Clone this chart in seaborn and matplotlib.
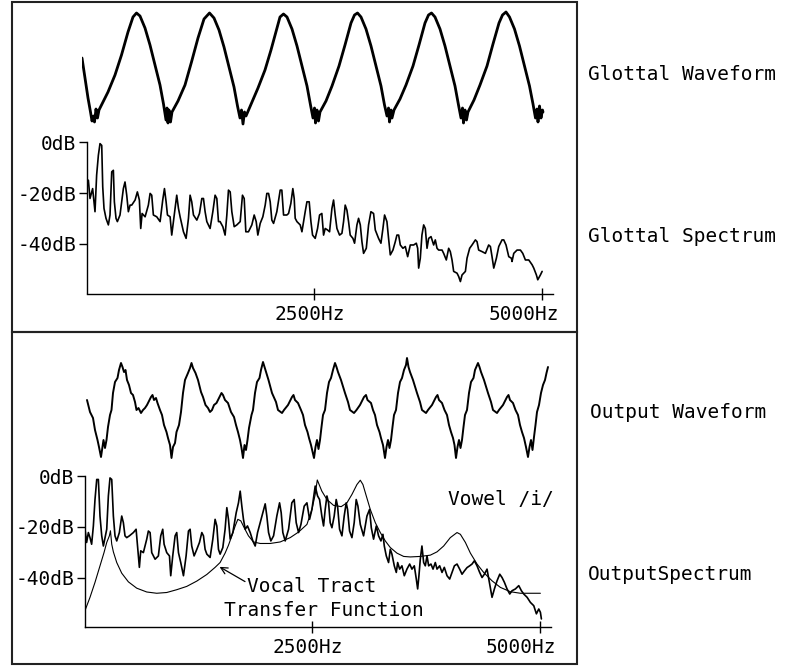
import matplotlib
matplotlib.use("Agg")
import matplotlib.pyplot as plt
import seaborn as sns
import pandas as pd
from matplotlib.patches import Rectangle
from matplotlib.transforms import ScaledTranslation

# ---------------- data ----------------
# waveforms: time in samples (10 kHz), amplitude in arbitrary units
glottal_wave = [
    (0, 65), (3, 45), (6, 25), (8.5, 11), (10, 2), (11.5, 7), (12.5, 1), (14, 14), (15.5, 5), (17, 13),
    (20, 19), (26, 31), (33, 48), (39.5, 68), (46, 91), (51, 106), (54.5, 110), (58, 107), (63, 95), (68, 78),
    (73, 58), (78, 38), (81.5, 19), (84, 3), (85, 15), (86, 0), (87, 13), (88.5, 1), (90, 11), (96, 22),
    (103, 38), (109.5, 61), (116, 85), (122, 104), (127.5, 110), (132, 105), (137, 93), (142, 76), (147, 56), (152, 36),
    (155.5, 17), (158, 5), (159.5, 13), (161, -1), (162.5, 11), (164, 7), (170, 21), (176, 35), (183, 53), (189, 73),
    (195, 95), (198, 106), (201.5, 109), (205, 106), (210, 94), (215, 77), (220, 57), (225, 37), (228.5, 18), (231, 5),
    (232.5, 15), (233.5, 0), (235, 13), (236.5, 2), (238, 11), (244, 22), (250, 37), (257, 57), (263, 78), (269, 100),
    (272.5, 108), (275.5, 110), (279, 106), (284, 94), (289, 77), (294, 57), (299, 37), (302.5, 18), (305, 7), (306.5, 15),
    (307.5, 1), (309, 13), (310, 5), (312, 13), (318, 24), (324, 38), (331, 57), (337, 78), (343, 100), (346.5, 108),
    (349.5, 110), (353, 106), (358, 94), (363, 77), (368, 57), (373, 37), (376.5, 18), (379, 5), (380.5, 15), (381.5, 0),
    (383, 13), (384.5, 3), (386, 11), (392, 23), (398, 38), (405, 57), (411, 79), (417, 100), (420.5, 108), (424, 111),
    (427.5, 106), (432.5, 94), (437.5, 77), (442.5, 57), (447.5, 37), (451, 19), (453.5, 5), (455, 14), (456, 1), (457.5, 17),
    (459, 5), (460.5, 13), (461, 11),
]

output_wave = [
    (5, 60), (8, 48), (11, 42), (13, 30), (15.5, 20), (17, 13), (19, 3), (20.5, 13), (21.5, 20), (23, 12),
    (24.5, 20), (26, 33), (28, 45), (29.5, 50), (31, 67), (33, 78), (35.5, 82), (37, 90), (39, 97), (40.5, 93),
    (42, 88), (43.5, 90), (45, 80), (47, 75), (49, 67), (51, 65), (53, 58), (54.5, 50), (56.5, 52), (59, 47),
    (61, 50), (63, 52), (65, 55), (67, 59), (69, 63), (70.5, 65), (72, 60), (74, 62), (75.5, 57), (78, 50),
    (80, 45), (82, 35), (84.5, 28), (86, 22), (88, 15), (89.5, 2),
    (91, 13), (93, 17), (94.5, 28), (97, 35), (99, 48), (101, 67), (103, 80), (106, 87), (108, 92), (109.5, 97),
    (111, 92), (113.5, 87), (116, 80), (119, 68), (121, 63), (123.5, 55), (126, 52), (128, 48), (130, 50), (132, 55),
    (134.5, 57), (137, 62), (139.5, 67), (141, 65), (143, 60), (146, 57), (149, 48), (152, 43), (154, 35), (156, 28),
    (158, 20), (159.5, 12), (161, 2),
    (162.5, 15), (164, 10), (165.5, 20), (167, 32), (169.5, 45), (171, 50), (173, 67), (175, 78), (177.5, 82), (179, 90),
    (181, 98), (182.5, 93), (184, 88), (186.5, 80), (190, 67), (194, 58), (196, 50), (200, 47), (202, 50), (206, 55),
    (210, 63), (211.5, 65), (213, 60), (216, 57), (219, 50), (221, 45), (223, 35), (225.5, 28), (227, 22), (229, 15),
    (232, 2),
    (233.5, 13), (235, 20), (236.5, 11), (238, 20), (239.5, 33), (241, 45), (243, 50), (245, 67), (247, 78), (249, 82),
    (251, 90), (253, 97), (254.5, 93), (256, 88), (259, 80), (263, 67), (266, 58), (268, 50), (272, 47), (274.5, 50),
    (278, 55), (282, 63), (284, 65), (285.5, 60), (289, 57), (291, 50), (293, 45), (295, 35), (297.5, 28), (299, 22),
    (301, 15), (303, 2),
    (304.5, 13), (306, 20), (307.5, 12), (309, 20), (310.5, 33), (312, 45), (314, 50), (316, 67), (318, 78), (320, 82),
    (322, 90), (324, 95), (325, 102), (326.5, 93), (328, 88), (331, 80), (335, 67), (338, 58), (340, 50), (344, 47),
    (346, 50), (350, 55), (354, 63), (355.5, 65), (357, 60), (360, 57), (362.5, 50), (365, 45), (367, 35), (369, 28),
    (371, 22), (372.5, 15), (374, 2),
    (375.5, 13), (377, 20), (378.5, 12), (380, 20), (381.5, 33), (383, 45), (385, 50), (387, 67), (389, 78), (391.5, 82),
    (393, 90), (396, 97), (397.5, 93), (399, 88), (402, 80), (406, 67), (409, 58), (411, 50), (415, 47), (417, 50),
    (421, 55), (425, 63), (426.5, 65), (428, 60), (431, 57), (433.5, 50), (436, 45), (438, 35), (440, 28), (442, 22),
    (444, 13), (446, 3),
    (447.5, 13), (449, 20), (450.5, 10), (452, 23), (453.5, 35), (455, 48), (457, 55), (459, 67), (461, 75), (463, 80),
    (464.5, 87), (466, 93),
]

# spectra: (frequency Hz, level dB)
glottal_spectrum = [
    (0, -15.6), (15, -14.9), (33, -22.1), (62, -18.2), (77, -23.4), (88, -27.3), (106, -12.9), (125, -5.1), (143, -0.5), (162, -1.2),
    (173, -17.5), (187, -26), (209, -29.9), (235, -32.5), (253, -28.6), (272, -11.6), (290, -11), (301, -23.4), (319, -29.9), (334, -31.2),
    (363, -28.6), (382, -23.4), (400, -18.2), (418, -15.6), (437, -20.8), (455, -27.3), (474, -24.7), (492, -24.7), (529, -22.7), (554, -19.5),
    (576, -22.7), (591, -33.9), (606, -28), (639, -29.3), (675, -24.7), (694, -20.1), (712, -20.8), (730, -28.6), (767, -29.3), (804, -31.2),
    (833, -22.7), (852, -18.2), (870, -23.4), (885, -28.6), (914, -29.3), (932, -36.5), (969, -26), (987, -20.8), (1006, -26), (1024, -29.3),
    (1061, -35.2), (1090, -37.8), (1116, -29.9), (1134, -20.8), (1152, -23.4), (1171, -28.6), (1208, -30.6), (1237, -28), (1263, -22.1), (1281, -22.1),
    (1299, -27.3), (1318, -31.2), (1354, -33.9), (1384, -27.3), (1409, -20.8), (1428, -22.1), (1446, -31.2), (1464, -31.2), (1494, -33.2), (1519, -36.5),
    (1538, -28.6), (1556, -18.8), (1575, -19.5), (1593, -27.3), (1619, -33.2), (1648, -32.5), (1685, -31.2), (1710, -20.8), (1729, -22.1), (1747, -35.2),
    (1776, -35.2), (1813, -32.5), (1839, -28.6), (1861, -31.2), (1879, -36.5), (1905, -31.9), (1934, -29.3), (1960, -24.7), (1978, -20.1), (1997, -20.1),
    (2015, -23.4), (2033, -30.6), (2052, -31.9), (2088, -27.3), (2125, -18.8), (2143, -18.8), (2162, -28.6), (2198, -28.6), (2217, -28), (2242, -24.1),
    (2264, -18.2), (2279, -22.1), (2290, -29.9), (2309, -31.2), (2345, -32.5), (2364, -35.2), (2382, -31.2), (2400, -27.3), (2419, -23.4), (2444, -23.4),
    (2463, -31.2), (2481, -36.5), (2510, -37.8), (2536, -33.9), (2558, -28.6), (2583, -28), (2602, -36.5), (2620, -33.9), (2646, -34.5), (2668, -35.2),
    (2694, -26), (2712, -22.7), (2730, -28.6), (2749, -33.9), (2778, -36.5), (2804, -35.8), (2822, -31.2), (2840, -24.7), (2859, -26.7), (2877, -31.2),
    (2895, -36.5), (2925, -37.8), (2943, -39.7), (2969, -32.5), (2987, -29.9), (3006, -32.5), (3024, -39.1), (3042, -43.7), (3072, -41.7), (3097, -32.5),
    (3123, -27.3), (3152, -28), (3171, -34.5), (3207, -37.8), (3233, -39.7), (3255, -33.9), (3273, -28.6), (3299, -31.2), (3317, -37.8), (3336, -44.3),
    (3365, -42.4), (3391, -39.1), (3409, -36.5), (3428, -36.5), (3446, -40.4), (3475, -41.7), (3501, -41), (3527, -45), (3556, -40.4), (3593, -40.4),
    (3622, -39.7), (3637, -41.7), (3648, -49.5), (3666, -45.6), (3684, -36.5), (3703, -32.5), (3721, -33.9), (3740, -41.7), (3758, -37.8), (3784, -37.1),
    (3813, -40.4), (3831, -38.4), (3850, -41.7), (3868, -42.4), (3905, -42.4), (3923, -43.7), (3952, -46.3), (3978, -41.7), (3996, -43), (4015, -46.3),
    (4033, -50.8), (4070, -51.5), (4088, -52.8), (4107, -54.8), (4125, -52.2), (4162, -50.8), (4180, -45.6), (4209, -41.7), (4235, -40.4), (4272, -38.4),
    (4290, -39.1), (4308, -42.4), (4345, -43), (4382, -43.7), (4418, -40.4), (4437, -41), (4455, -45), (4474, -49.5), (4503, -45.6), (4529, -41),
    (4565, -38.4), (4584, -38.4), (4609, -40.4), (4639, -45), (4668, -45.6), (4675, -46.9), (4694, -43.7), (4730, -42.4), (4767, -42.4), (4793, -43.7),
    (4822, -46.3), (4859, -46.3), (4896, -48.2), (4914, -49.5), (4943, -52.2), (4958, -54.1), (4987, -52.2), (5006, -50.8),
]

output_spectrum = [
    (0, -20.9), (18, -26.1), (37, -22.2), (55, -24.2), (73, -26.8), (92, -19.6), (110, -9.2), (129, -1.3), (147, -1.3), (165, -15.7),
    (184, -23.5), (202, -27.5), (220, -24.2), (239, -20.9), (257, -7.8), (275, -0.7), (294, -1.3), (312, -15.7), (330, -23.5), (349, -25.5),
    (378, -22.2), (404, -15.7), (422, -18.3), (440, -23.5), (459, -24.2), (488, -23.5), (532, -22.2), (562, -20.9), (576, -26.8), (598, -35.9),
    (613, -29.4), (642, -30.1), (679, -24.8), (697, -21.6), (716, -22.2), (734, -30.1), (771, -32.7), (807, -31.4), (833, -23.5), (855, -20.9),
    (870, -26.8), (899, -30.1), (929, -31.4), (943, -39.2), (965, -31.4), (991, -23.5), (1009, -22.2), (1028, -30.1), (1053, -34), (1083, -39.2),
    (1112, -31.4), (1138, -21.6), (1156, -20.9), (1174, -27.5), (1200, -31.4), (1230, -28.8), (1259, -26.1), (1285, -22.2), (1303, -23.5), (1321, -28.8),
    (1340, -30.7), (1376, -32), (1406, -24.8), (1431, -17), (1450, -19.6), (1468, -28.8), (1486, -30.7), (1516, -28.1), (1541, -20.9), (1560, -12.4),
    (1578, -17), (1597, -24.8), (1626, -22.2), (1663, -14.4), (1688, -10.5), (1707, -5.9), (1725, -11.8), (1743, -17), (1762, -20.9), (1787, -19.6),
    (1817, -22.2), (1846, -25.5), (1872, -27.5), (1898, -22.2), (1927, -18.3), (1956, -14.4), (1982, -10.9), (2000, -15.7), (2019, -22.2), (2044, -25.5),
    (2074, -23.5), (2110, -15.7), (2140, -10.5), (2158, -14.4), (2176, -22.2), (2202, -25.5), (2239, -20.9), (2275, -10.5), (2301, -9.2), (2323, -18.3),
    (2349, -22.2), (2375, -19), (2411, -11.8), (2441, -10.5), (2470, -17), (2496, -13.1), (2532, -3.9), (2558, -7.8), (2580, -9.2), (2605, -15.7),
    (2624, -19.6), (2642, -13.1), (2661, -7.8), (2679, -10.5), (2697, -18.3), (2716, -20.3), (2741, -15.7), (2763, -9.2), (2778, -11.8), (2800, -20.9),
    (2826, -23.5), (2851, -15.7), (2873, -10.5), (2888, -13.1), (2910, -21.6), (2936, -24.2), (2961, -18.3), (2983, -9.2), (3002, -11.8), (3028, -19),
    (3064, -23.5), (3101, -15.7), (3130, -13.1), (3149, -20.3), (3174, -24.8), (3204, -19.6), (3229, -23.5), (3255, -25.5), (3277, -22.9), (3292, -27.5),
    (3314, -31.4), (3339, -34), (3358, -28.8), (3376, -30.7), (3402, -35.3), (3424, -37.9), (3439, -34), (3461, -36.6), (3486, -35.3), (3512, -39.2),
    (3541, -36.6), (3571, -34.6), (3596, -36.6), (3622, -35.3), (3644, -40.5), (3659, -44.4), (3673, -39.2), (3688, -32.7), (3706, -27.5), (3725, -34),
    (3743, -35.3), (3762, -31.4), (3780, -35.3), (3805, -34.6), (3828, -36.6), (3853, -34), (3872, -36.6), (3901, -35.3), (3927, -37.9), (3952, -35.9),
    (3982, -39.2), (4011, -40.5), (4037, -37.9), (4063, -35.3), (4092, -34.6), (4121, -36.6), (4147, -38.6), (4173, -37.3), (4202, -36), (4231, -35.3),
    (4257, -34.6), (4283, -33.3), (4312, -35.3), (4341, -37.9), (4367, -39.9), (4393, -38.6), (4422, -36.6), (4451, -42.5), (4477, -47.7), (4503, -44.4),
    (4532, -41.2), (4562, -38.6), (4587, -39.9), (4613, -41.8), (4642, -44.4), (4672, -46.4), (4697, -45.1), (4734, -44.4), (4771, -43.1), (4800, -45.1),
    (4826, -46.4), (4863, -47.7), (4899, -49.7), (4936, -51), (4965, -54.2), (4991, -52.3), (5009, -53.6), (5020, -56.2),
]

transfer_function = [
    (0, -52.9), (55, -47.7), (110, -41.8), (165, -35.3), (209, -30.1), (239, -26.1), (268, -23.5), (280, -21.5), (294, -26.8), (312, -29.8),
    (349, -34), (404, -38.2), (477, -41.6), (569, -44.1), (679, -45.6), (789, -46.1), (899, -45.8), (1009, -44.7), (1119, -43.4), (1230, -41.3),
    (1340, -38.7), (1431, -35.9), (1486, -34), (1541, -30.3), (1578, -27.2), (1615, -23.5), (1652, -19.6), (1681, -17), (1714, -17.6), (1751, -20.3),
    (1798, -23.5), (1853, -25.9), (1927, -26.5), (2037, -26.5), (2147, -25.9), (2257, -24.2), (2349, -22), (2441, -19), (2496, -13.1), (2532, -7.2),
    (2555, -1.5), (2605, -5.9), (2661, -9.2), (2734, -11.5), (2818, -12), (2881, -10.5), (2936, -7.2), (2991, -3.3), (3028, -1.6), (3057, -3.3),
    (3094, -7.8), (3138, -13.1), (3193, -18.3), (3248, -22.2), (3303, -25.5), (3358, -28.1), (3431, -30.3), (3505, -31.6), (3578, -31.8), (3688, -31.6),
    (3798, -31.1), (3872, -29.8), (3945, -27.5), (4018, -24.2), (4092, -22.2), (4129, -22.9), (4184, -26.1), (4239, -30.3), (4312, -34.6), (4385, -37.9),
    (4477, -41.2), (4569, -43.8), (4679, -45.5), (4789, -46.1), (5009, -46.1),
]

db_ticks = [0, -20, -40]
db_labels = ["0dB", "-20dB", "-40dB"]
hz_ticks = [2500, 5000]
hz_labels = ["2500Hz", "5000Hz"]
panel_labels = ["Glottal Waveform", "Glottal Spectrum", "Output Waveform", "OutputSpectrum"]

# ---------------- drawing ----------------
sns.set_style("white")
plt.rcParams["font.family"] = ["DejaVu Sans Mono"]
FS = 14

W, H = 786, 666
fig = plt.figure(figsize=(W / 100, H / 100), dpi=100)
fig.patch.set_facecolor("white")


def add_px_axes(left, top, width, height):
    return fig.add_axes([left / W, 1 - (top + height) / H, width / W, height / H])


def draw(ax, pairs, lw):
    df = pd.DataFrame(pairs, columns=["x", "y"])
    sns.lineplot(data=df, x="x", y="y", ax=ax, color="black", linewidth=lw,
                 sort=False, estimator=None)


ax_gw = add_px_axes(82, 8, 470, 120)
ax_gs = add_px_axes(87, 132.2, 466.4, 161.3)
ax_ow = add_px_axes(82, 355, 470, 110)
ax_os = add_px_axes(85, 466, 466.4, 161.3)

# waveforms
draw(ax_gw, glottal_wave, 2.0)
ax_gw.set_xlim(0, 470)
ax_gw.set_ylim(-5, 115)
draw(ax_ow, output_wave, 1.4)
ax_ow.set_xlim(0, 470)
ax_ow.set_ylim(-5, 105)
for ax in (ax_gw, ax_ow):
    ax.set_axis_off()

# spectra
draw(ax_gs, glottal_spectrum, 1.2)
draw(ax_os, output_spectrum, 1.2)
draw(ax_os, transfer_function, 0.8)


def style_spec(ax, shifts):
    ax.set_xlim(0, 5130)
    ax.set_ylim(-59.5, 4)
    ax.set_facecolor("none")
    ax.grid(False)
    ax.set_xlabel("")
    ax.set_ylabel("")
    for s in ("top", "right"):
        ax.spines[s].set_visible(False)
    for s in ("left", "bottom"):
        ax.spines[s].set_color("black")
        ax.spines[s].set_linewidth(1.0)
    ax.spines["left"].set_bounds(-59.5, 0)
    ax.set_yticks(db_ticks)
    ax.set_yticklabels(db_labels)
    ax.set_xticks(hz_ticks)
    ax.set_xticklabels(hz_labels)
    ax.tick_params(axis="y", direction="out", length=6, width=1, pad=2,
                   labelsize=FS, left=True, colors="black")
    ax.tick_params(axis="x", direction="inout", length=8, width=1, pad=4,
                   labelsize=FS, bottom=True, colors="black")
    for lab, dx in zip(ax.get_xticklabels(), shifts):
        lab.set_transform(lab.get_transform() + ScaledTranslation(dx / 100, 0, fig.dpi_scale_trans))


style_spec(ax_gs, [-5, -17.5])
style_spec(ax_os, [-5, -18.5])

# annotations in the output spectrum
ax_os.text(3993, -9, "Vowel /i/", fontsize=FS, ha="left", va="center", color="black")
ax_os.text(1782, -43.3, "Vocal Tract", fontsize=FS, ha="left", va="center", color="black")
ax_os.text(1529, -52.8, "Transfer Function", fontsize=FS, ha="left", va="center", color="black")
ax_os.annotate("", xy=(1480, -35.7), xytext=(1760, -41.5),
               arrowprops=dict(arrowstyle="->", color="black", lw=0.9,
                               shrinkA=0, shrinkB=0, mutation_scale=12))

# right-side panel labels
label_pos = [(588, 74), (588, 236), (590, 412), (588, 575)]
for text, (x, y) in zip(panel_labels, label_pos):
    fig.text(x / W, 1 - y / H, text, fontsize=FS, ha="left", va="center", color="black")

# frames
for top, bottom in ((2, 332), (332, 663.5)):
    fig.add_artist(Rectangle((11.5 / W, 1 - bottom / H), 565 / W, (bottom - top) / H,
                             transform=fig.transFigure, fill=False, lw=1.5, ec="#222222"))

fig.savefig("out.png", dpi=100, facecolor="white")
